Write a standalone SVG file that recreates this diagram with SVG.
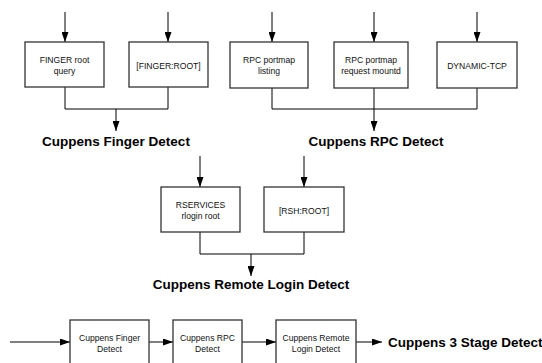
<svg xmlns="http://www.w3.org/2000/svg" width="542" height="363" viewBox="0 0 542 363">
<style>
.box{fill:#fff;stroke:#333;stroke-width:1.3}
.t{font-family:"Liberation Sans",Arial,sans-serif;font-size:8.6px;fill:#111;text-anchor:middle}
.lbl{font-family:"Liberation Sans",Arial,sans-serif;font-size:13.5px;font-weight:bold;fill:#000;text-anchor:middle}
.c{fill:none;stroke:#000;stroke-width:1}
</style>
<defs>
<marker id="ah" markerUnits="userSpaceOnUse" markerWidth="10" markerHeight="7" refX="10" refY="3.5" orient="auto">
<path d="M0,0 L10,3.5 L0,7 z" fill="#000"/>
</marker>
</defs>
<rect width="542" height="363" fill="#fff"/>
<g id="connectors">
<line class="c" x1="65" y1="12" x2="65" y2="42" marker-end="url(#ah)"/>
<line class="c" x1="168" y1="12" x2="168" y2="42" marker-end="url(#ah)"/>
<line class="c" x1="272" y1="12" x2="272" y2="42" marker-end="url(#ah)"/>
<line class="c" x1="374" y1="12" x2="374" y2="42" marker-end="url(#ah)"/>
<line class="c" x1="477" y1="12" x2="477" y2="42" marker-end="url(#ah)"/>
<path class="c" d="M65,87 V109 H168 V87"/>
<line class="c" x1="116" y1="109" x2="116" y2="131" marker-end="url(#ah)"/>
<path class="c" d="M272,88 V109 H477 V88 M374,88 V109"/>
<line class="c" x1="374" y1="109" x2="374" y2="131" marker-end="url(#ah)"/>
<line class="c" x1="200" y1="156" x2="200" y2="187" marker-end="url(#ah)"/>
<line class="c" x1="304" y1="156" x2="304" y2="187" marker-end="url(#ah)"/>
<path class="c" d="M200,232 V254 H304 V232"/>
<line class="c" x1="251" y1="254" x2="251" y2="276" marker-end="url(#ah)"/>
<line class="c" x1="10" y1="342" x2="70" y2="342" marker-end="url(#ah)"/>
<line class="c" x1="149" y1="342" x2="173" y2="342" marker-end="url(#ah)"/>
<line class="c" x1="242" y1="342" x2="276" y2="342" marker-end="url(#ah)"/>
<line class="c" x1="356" y1="342" x2="382" y2="342" marker-end="url(#ah)"/>
</g>
<g id="n-finger-query"><rect class="box" x="25" y="42" width="79" height="45"/><text class="t" x="64.5" y="62.5">FINGER root</text><text class="t" x="64.5" y="73.5">query</text></g>
<g id="n-finger-root"><rect class="box" x="129" y="42" width="79" height="45"/><text class="t" x="168.5" y="68.5">[FINGER:ROOT]</text></g>
<g id="n-rpc-listing"><rect class="box" x="230" y="42" width="78" height="46"/><text class="t" x="269" y="62.5">RPC portmap</text><text class="t" x="269" y="73.5">listing</text></g>
<g id="n-rpc-mountd"><rect class="box" x="334" y="42" width="74" height="46"/><text class="t" x="371" y="62.5">RPC portmap</text><text class="t" x="371" y="73.5">request mountd</text></g>
<g id="n-dynamic-tcp"><rect class="box" x="437" y="42" width="80" height="46"/><text class="t" x="477" y="68.5">DYNAMIC-TCP</text></g>
<g id="n-finger-detect"><text class="lbl" x="116" y="146">Cuppens Finger Detect</text></g>
<g id="n-rpc-detect"><text class="lbl" x="376" y="146">Cuppens RPC Detect</text></g>
<g id="n-rservices"><rect class="box" x="161" y="187" width="79" height="45"/><text class="t" x="200.5" y="207.5">RSERVICES</text><text class="t" x="200.5" y="218.5">rlogin root</text></g>
<g id="n-rsh-root"><rect class="box" x="264" y="187" width="80" height="45"/><text class="t" x="304" y="214">[RSH:ROOT]</text></g>
<g id="n-remote-login-detect"><text class="lbl" x="251" y="289">Cuppens Remote Login Detect</text></g>
<g id="n-s1"><rect class="box" x="70" y="320" width="79" height="50"/><text class="t" x="109.5" y="341">Cuppens Finger</text><text class="t" x="109.5" y="351.5">Detect</text></g>
<g id="n-s2"><rect class="box" x="173" y="320" width="69" height="50"/><text class="t" x="207.5" y="341">Cuppens RPC</text><text class="t" x="207.5" y="351.5">Detect</text></g>
<g id="n-s3"><rect class="box" x="276" y="320" width="80" height="50"/><text class="t" x="316" y="341">Cuppens Remote</text><text class="t" x="316" y="351.5">Login Detect</text></g>
<g id="n-3stage"><text class="lbl" x="388" y="347" style="text-anchor:start">Cuppens 3 Stage Detect</text></g>
</svg>
